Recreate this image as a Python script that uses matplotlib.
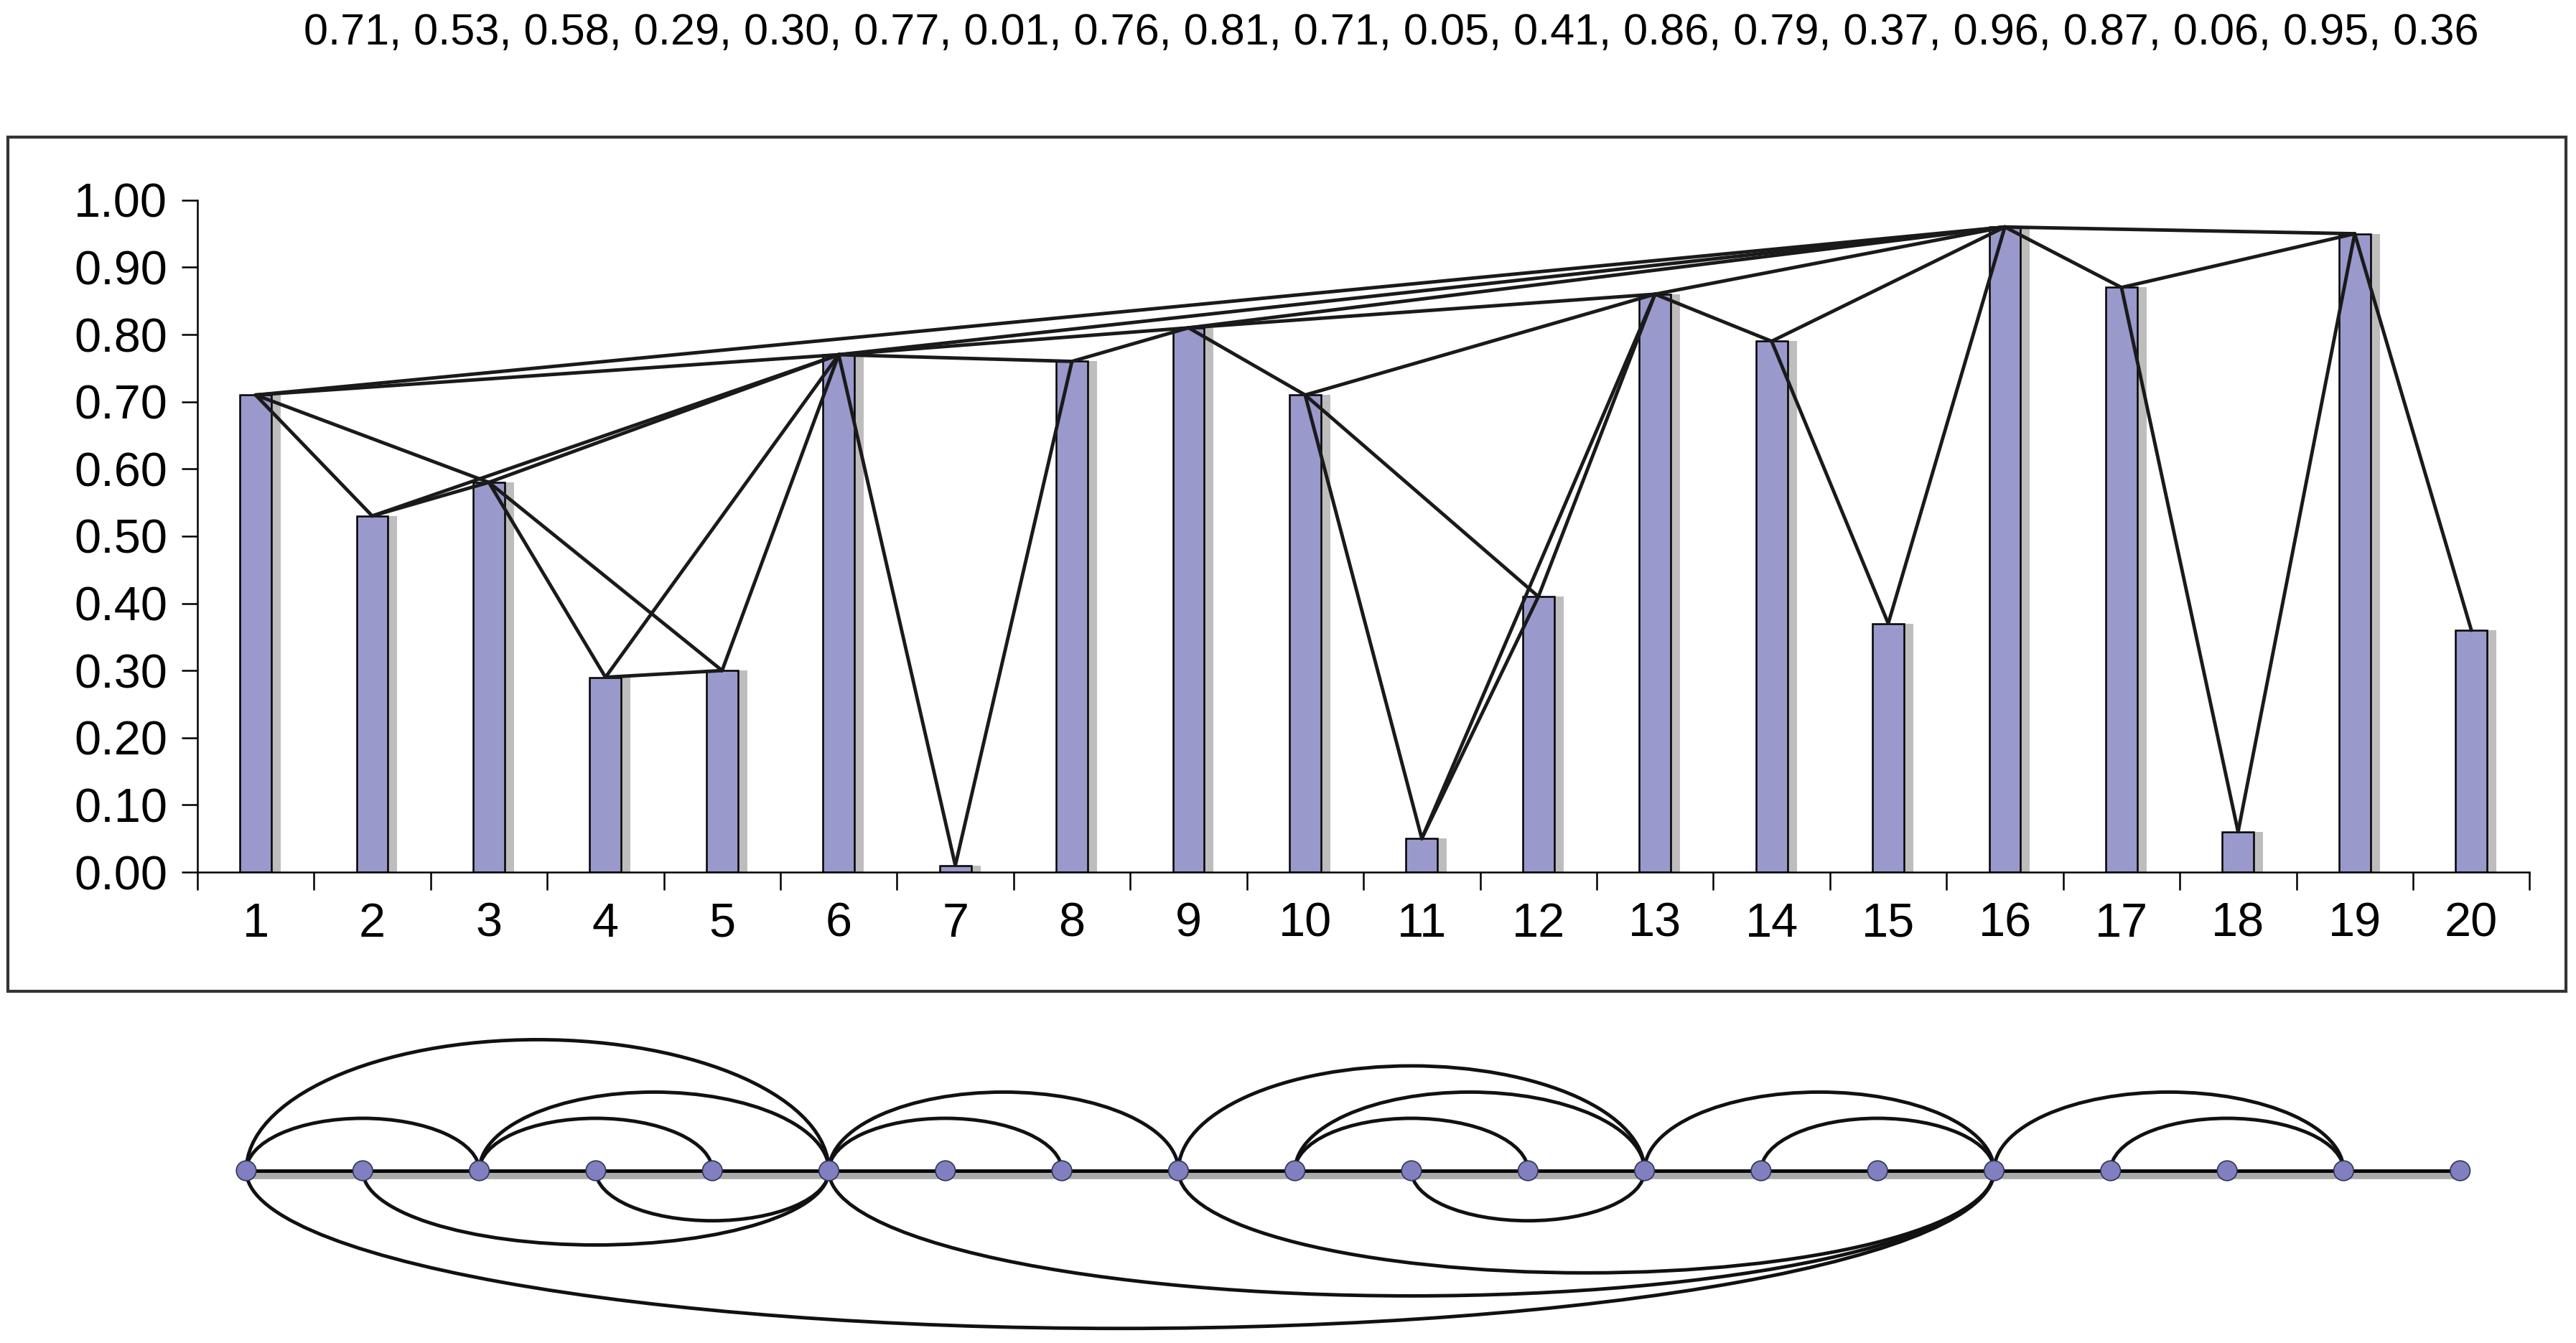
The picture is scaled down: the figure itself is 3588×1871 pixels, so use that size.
import matplotlib
matplotlib.use("Agg")
import matplotlib.pyplot as plt
from matplotlib.patches import Arc, Ellipse, Rectangle
import numpy as np

plt.rcParams['font.family'] = ['Liberation Sans', 'DejaVu Sans']

values = [0.71, 0.53, 0.58, 0.29, 0.30, 0.77, 0.01, 0.76, 0.81, 0.71,
          0.05, 0.41, 0.86, 0.79, 0.37, 0.96, 0.87, 0.06, 0.95, 0.36]
categories = list(range(1, 21))
y_ticks = [0.0, 0.1, 0.2, 0.3, 0.4, 0.5, 0.6, 0.7, 0.8, 0.9, 1.0]
edges_above = [(1, 3), (1, 6), (3, 5), (3, 6), (6, 8), (6, 9), (9, 13), (10, 13),
               (10, 12), (13, 16), (14, 16), (16, 19), (17, 19)]
edges_below = [(1, 16), (2, 6), (4, 6), (6, 16), (9, 16), (11, 13)]
adjacent = [(i, i + 1) for i in range(1, 20)]
title = ", ".join(f"{v:.2f}" for v in values)

W, H = 3588, 1871
fig = plt.figure(figsize=(W / 100, H / 100), dpi=100)
fig.text(0.54, 0.975, title, ha='center', va='center', fontsize=44)
fig.patches.append(Rectangle((0.003, 0.262), 0.993, 0.636, transform=fig.transFigure,
                             fill=False, edgecolor='#333333', lw=3))

ax = fig.add_axes([0.0766, 0.3506, 0.9054, 0.5004])
x = np.array(categories)
ax.bar(x + 0.08, values, width=0.27, color='#bdbdbd', zorder=1)
ax.bar(x, values, width=0.27, color='#9999cc', edgecolor='black', lw=1.8, zorder=2)
for a, b in adjacent + edges_above + edges_below:
    ax.plot([a, b], [values[a - 1], values[b - 1]], color='#1a1a1a', lw=3.5, zorder=3,
            solid_capstyle='round')
ax.set_xlim(0.5, 20.5)
ax.set_ylim(0, 1.0)
ax.set_yticks(y_ticks)
ax.set_yticklabels([f"{t:.2f}" for t in y_ticks], fontsize=48)
ax.set_xticks(categories)
ax.set_xticklabels([str(c) for c in categories], fontsize=48)
ax.set_xticks(np.arange(0.5, 21, 1), minor=True)
ax.tick_params(axis='x', which='major', length=0, pad=30)
ax.tick_params(axis='x', which='minor', length=18, width=1.8, direction='out')
ax.tick_params(axis='y', length=16, width=1.8, direction='out', pad=14)
for s in ['top', 'right']:
    ax.spines[s].set_visible(False)
for s in ['left', 'bottom']:
    ax.spines[s].set_linewidth(1.8)

# arc diagram
unit = 162.3
bx = fig.add_axes([0, 0, 1, 0.26])
left = 1 - 343 / unit
bx.set_xlim(left, left + W / unit)
bx.set_ylim(-240 / unit, (0.26 * H - 240) / unit)
bx.axis('off')
bx.plot([1, 20], [-0.03, -0.03], color='#aaaaaa', lw=9, zorder=1)
bx.plot([1, 20], [0, 0], color='black', lw=3.5, zorder=2)
for a, b in edges_above:
    half = (b - a) / 2
    h = 0.45 * half
    bx.add_patch(Arc(((a + b) / 2, 0), 2 * half, 2 * h, theta1=0, theta2=180,
                     color='#111111', lw=3.5, zorder=3))
for a, b in edges_below:
    half = (b - a) / 2
    h = 3.83 * (half * unit) ** 0.57 / unit
    bx.add_patch(Arc(((a + b) / 2, 0), 2 * half, 2 * h, theta1=180, theta2=360,
                     color='#111111', lw=3.5, zorder=3))
for c in categories:
    bx.add_patch(Ellipse((c, 0), 0.17, 0.17, facecolor='#8080c0', edgecolor='#333355',
                         lw=1.2, zorder=4))

fig.savefig("out.png", dpi=100)
